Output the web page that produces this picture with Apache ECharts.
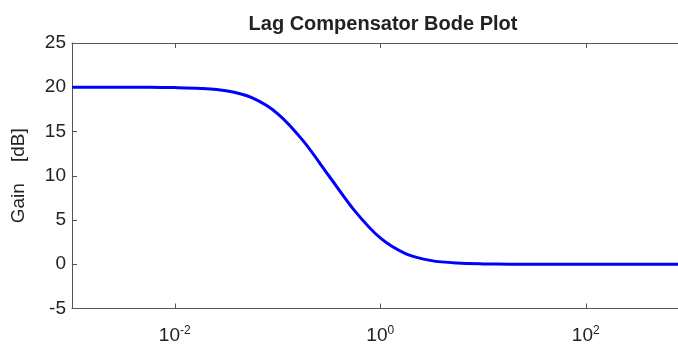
<!DOCTYPE html>
<html>
<head>
<meta charset="utf-8">
<script src="https://cdn.jsdelivr.net/npm/echarts@6/dist/echarts.min.js"></script>
<style>
  html, body { margin: 0; padding: 0; background: #fff; }
  #chart { width: 678px; height: 345px; }
</style>
</head>
<body>
<div id="chart"></div>
<script>
// frequency in rad/s, quarter-decade steps
const frequencies = [
  0.001, 0.00178, 0.00316, 0.00562,
  0.01, 0.0178, 0.0316, 0.0562,
  0.1, 0.178, 0.316, 0.562,
  1, 1.78, 3.16, 5.62,
  10, 17.8, 31.6, 56.2,
  100, 178, 316, 562, 1000,
];
// gain in dB
const gainDb = [
  20.0, 20.0, 20.0, 19.99,
  19.96, 19.87, 19.6, 18.82,
  17.03, 13.94, 10.0, 6.06,
  2.97, 1.18, 0.41, 0.13,
  0.04, 0.01, 0.0, 0.0,
  0.0, 0.0, 0.0, 0.0, 0.0,
];
const xTickValues = [0.01, 1, 100];
// the plot is cut off on the right just short of 10^3
const xRange = { min: 0.001, max: 790 };
const yTicks = { min: -5, max: 25, step: 5 };

const fontFamily = 'Liberation Sans, Arial, sans-serif';
const axisColor = '#555';
const labelColor = '#222';

const chart = echarts.init(document.getElementById('chart'));

const xLabelFormatter = (value) => {
  const exponent = Math.round(Math.log10(value));
  return `10{sup|${exponent}}`;
};

const edgeAxis = (position, showLabels) => ({
  type: 'log',
  min: xRange.min,
  max: xRange.max,
  position,
  axisLine: { show: true, onZero: false, lineStyle: { color: axisColor, width: 1 } },
  axisTick: { show: true, inside: true, length: 5, customValues: xTickValues, lineStyle: { color: axisColor } },
  minorTick: { show: false },
  splitLine: { show: false },
  axisLabel: showLabels
    ? {
        customValues: xTickValues,
        margin: 16,
        formatter: xLabelFormatter,
        color: labelColor,
        fontFamily,
        fontSize: 19,
        rich: {
          sup: {
            fontFamily,
            fontSize: 12,
            color: labelColor,
            verticalAlign: 'top',
            padding: [0, 0, 10, 0],
          },
        },
      }
    : { show: false },
});

chart.setOption({
  animation: false,
  title: {
    text: 'Lag Compensator Bode Plot',
    left: 378,
    textAlign: 'center',
    top: 9,
    textStyle: {
      fontFamily,
      fontSize: 20,
      fontWeight: 'bold',
      color: labelColor,
    },
  },
  grid: {
    left: 72,
    top: 43,
    right: 0,
    bottom: 36,
  },
  xAxis: [edgeAxis('bottom', true), edgeAxis('top', false)],
  yAxis: {
    type: 'value',
    min: yTicks.min,
    max: yTicks.max,
    interval: yTicks.step,
    name: 'Gain    [dB]',
    nameLocation: 'middle',
    nameRotate: 90,
    nameGap: 44,
    nameTextStyle: {
      fontFamily,
      fontSize: 19,
      color: labelColor,
    },
    axisLine: { show: true, onZero: false, lineStyle: { color: axisColor, width: 1 } },
    axisTick: { show: true, inside: true, length: 5, lineStyle: { color: axisColor } },
    splitLine: { show: false },
    axisLabel: {
      margin: 6,
      color: labelColor,
      fontFamily,
      fontSize: 19,
    },
  },
  series: [
    {
      type: 'line',
      name: 'Gain',
      xAxisIndex: 0,
      data: frequencies.map((f, i) => [f, gainDb[i]]),
      symbol: 'none',
      smooth: 0.3,
      lineStyle: {
        color: '#0000ff',
        width: 3,
      },
    },
  ],
});
</script>
</body>
</html>
